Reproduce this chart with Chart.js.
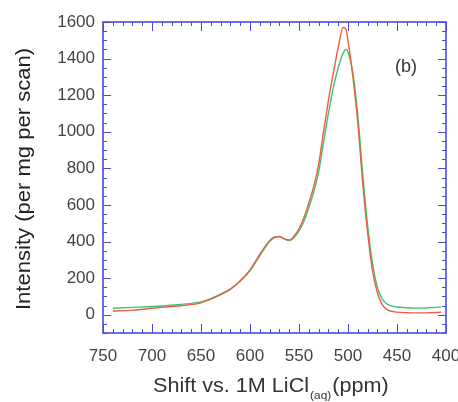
<!DOCTYPE html>
<html>
<head>
<meta charset="utf-8">
<script src="https://cdn.jsdelivr.net/npm/chart.js@4"></script>
<style>
  html, body { margin: 0; padding: 0; background: #fff; }
  #wrap { width: 458px; height: 402px; }
</style>
</head>
<body>
<div id="wrap"><canvas id="chart" width="458" height="402"></canvas></div>
<script>
// 데이터
const shift = [740, 720, 700, 680, 660, 650, 640, 630, 620, 610, 600, 590, 580, 575, 570, 565, 560, 555, 550, 545, 540, 535, 530, 525, 520, 515, 510, 505, 502, 500, 495, 490, 485, 480, 475, 470, 465, 460, 455, 450, 440, 430, 420, 410, 405];
const redVals = [20, 25, 35, 45, 55, 65, 85, 110, 140, 185, 245, 330, 405, 425, 428, 415, 408, 430, 470, 530, 610, 700, 820, 1000, 1170, 1320, 1460, 1570, 1560, 1500, 1300, 1050, 720, 450, 240, 120, 55, 28, 18, 14, 11, 10, 10, 12, 14];
const greenVals = [35, 40, 45, 52, 62, 70, 88, 112, 140, 183, 240, 322, 400, 422, 426, 414, 405, 422, 458, 510, 585, 670, 780, 940, 1100, 1240, 1350, 1430, 1450, 1435, 1320, 1090, 770, 490, 280, 150, 85, 58, 47, 42, 38, 36, 37, 40, 42];
const xTicks = [750, 700, 650, 600, 550, 500, 450, 400];
const yTicks = [0, 200, 400, 600, 800, 1000, 1200, 1400, 1600];

const FRAME = '#4b4bd6';
const FONT = '"Liberation Sans", Arial, sans-serif';

const toPts = (vals) => shift.map((s, i) => ({ x: s, y: vals[i] }));

/* ====== 안쪽 눈금 + 테두리 + 텍스트 ====== */
const framePlugin = {
  id: 'frame',
  afterDraw(chart){
    const { ctx, chartArea: a, scales } = chart;
    const xs = scales.x, ys = scales.y;
    ctx.save();
    ctx.strokeStyle = FRAME;
    ctx.lineWidth = 1;
    ctx.beginPath();
    for(let v = 750; v >= 400; v -= 10){
      const px = Math.round(xs.getPixelForValue(v)) + 0.5;
      const len = v % 50 === 0 ? 9 : 4;
      ctx.moveTo(px, a.bottom); ctx.lineTo(px, a.bottom - len);
      ctx.moveTo(px, a.top); ctx.lineTo(px, a.top + len);
    }
    for(let v = -100; v <= 1600; v += 50){
      const py = Math.round(ys.getPixelForValue(v)) + 0.5;
      const len = v % 200 === 0 ? 8 : 4;
      ctx.moveTo(a.left, py); ctx.lineTo(a.left + len, py);
      ctx.moveTo(a.right, py); ctx.lineTo(a.right - len, py);
    }
    ctx.stroke();
    ctx.lineWidth = 1.6;
    ctx.strokeRect(a.left, a.top, a.right - a.left, a.bottom - a.top);

    // (b) 라벨
    ctx.fillStyle = '#333';
    ctx.font = `18px ${FONT}`;
    ctx.textAlign = 'center';
    ctx.textBaseline = 'middle';
    ctx.fillText('(b)', 406, 67);

    // y 축 제목
    ctx.save();
    ctx.font = `20px ${FONT}`;
    const ty = 'Intensity (per mg per scan)';
    const sy = 262 / ctx.measureText(ty).width;
    ctx.translate(24, 179);
    ctx.rotate(-Math.PI / 2);
    ctx.scale(sy, 1);
    ctx.fillStyle = '#222';
    ctx.fillText(ty, 0, 0);
    ctx.restore();

    // x 축 제목 (아래첨자 포함)
    ctx.save();
    ctx.translate(153, 392);
    ctx.scale(1.08, 1);
    ctx.fillStyle = '#333';
    ctx.textAlign = 'left';
    ctx.textBaseline = 'alphabetic';
    const t1 = 'Shift vs. 1M LiCl', t2 = '(aq)', t3 = '(ppm)';
    ctx.font = `20px ${FONT}`;
    const w1 = ctx.measureText(t1).width;
    ctx.fillText(t1, 0, 0);
    ctx.font = `11px ${FONT}`;
    const w2 = ctx.measureText(t2).width;
    ctx.fillText(t2, w1 + 1, 7);
    ctx.font = `20px ${FONT}`;
    ctx.fillText(t3, w1 + w2 + 2, 0);
    ctx.restore();
    ctx.restore();
  }
};

new Chart(document.getElementById('chart'), {
  type: 'line',
  data: {
    datasets: [
      { label: 'red', data: toPts(redVals), borderColor: '#e8603c', borderWidth: 1.4, pointRadius: 0, tension: 0.4, cubicInterpolationMode: 'monotone', fill: false },
      { label: 'green', data: toPts(greenVals), borderColor: '#3fc17a', borderWidth: 1.4, pointRadius: 0, tension: 0.4, cubicInterpolationMode: 'monotone', fill: false }
    ]
  },
  options: {
    responsive: false,
    animation: false,
    layout: { padding: { left: 0, right: 12, top: 22, bottom: 0 } },
    plugins: { legend: { display: false }, tooltip: { enabled: false } },
    scales: {
      x: {
        type: 'linear', reverse: true, min: 400, max: 750,
        afterFit(s){ s.height = 69; s.paddingLeft = 0; s.paddingRight = 0; },
        afterBuildTicks(s){ s.ticks = xTicks.map(v => ({ value: v })); },
        grid: { display: false, drawTicks: false },
        border: { display: false },
        ticks: { color: '#444', font: { family: FONT, size: 17 }, padding: 13, maxRotation: 0, autoSkip: false, callback: v => String(v) }
      },
      y: {
        type: 'linear', min: -100, max: 1600,
        afterFit(s){ s.width = 103; s.paddingTop = 0; s.paddingBottom = 0; },
        afterBuildTicks(s){ s.ticks = yTicks.map(v => ({ value: v })); },
        grid: { display: false, drawTicks: false },
        border: { display: false },
        ticks: { color: '#444', font: { family: FONT, size: 17 }, padding: 8, callback: v => String(v) }
      }
    }
  },
  plugins: [framePlugin]
});
</script>
</body>
</html>
